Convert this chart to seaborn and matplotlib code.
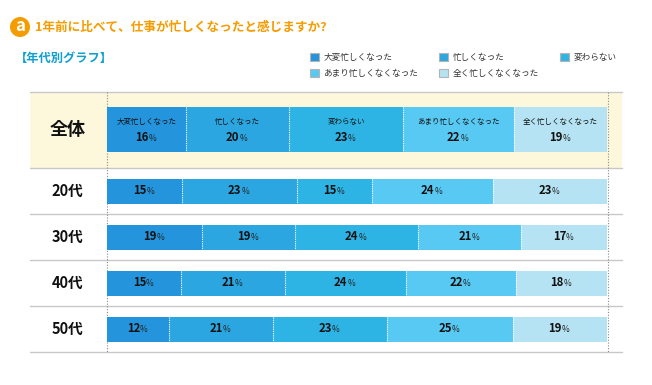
import numpy as np
import pandas as pd
import seaborn as sns
import matplotlib.pyplot as plt
from matplotlib.patches import Circle, Rectangle

# answers, darkest first
answers = ['大変忙しくなった', '忙しくなった', '変わらない', 'あまり忙しくなくなった', '全く忙しくなくなった']
colors = ['#2494dc', '#2ba6e0', '#2db4e4', '#58c9f3', '#b5e3f3']

total_group = ['全体']
age_groups = ['20代', '30代', '40代', '50代']

# shares
total_vals = [[15.8, 20.6, 22.8, 22.2, 18.6]]
age_vals = [
    [15.0, 23.0, 15.0, 24.2, 22.8],
    [19.0, 18.6, 24.6, 20.6, 17.2],
    [14.8, 20.8, 24.2, 22.0, 18.2],
    [12.4, 20.8, 22.8, 25.2, 18.8],
]

# printed labels
total_labels = [[16, 20, 23, 22, 19]]
age_labels = [
    [15, 23, 15, 24, 23],
    [19, 19, 24, 21, 17],
    [15, 21, 24, 22, 18],
    [12, 21, 23, 25, 19],
]

sns.set_theme(style='white')
plt.rcParams['font.family'] = ['Noto Sans CJK JP', 'DejaVu Sans']

W, H = 652, 385
fig = plt.figure(figsize=(W / 100, H / 100), dpi=100)

# background layer in pixels for the panel, lines and headings
bg = fig.add_axes([0, 0, 1, 1])
bg.set_xlim(0, W)
bg.set_ylim(H, 0)
bg.axis('off')
bg.add_patch(Rectangle((30, 92), 592, 76, color='#fdf8dc', lw=0))
for y in [92, 168, 214, 260, 306, 352]:
    bg.plot([30, 622], [y, y], color='#c8c8c8', lw=1)
for x in [106.5, 607.5]:
    bg.plot([x, x], [92, 352], color='#8a8a8a', lw=0.8, ls=(0, (1, 1.5)))

bg.add_patch(Circle((20, 27), 10, color='#f59c00', lw=0))
bg.text(20, 26, 'a', color='white', fontsize=12, fontweight='bold', ha='center', va='center')
bg.text(35, 27.5, '1年前に比べて、仕事が忙しくなったと感じますか?', color='#f59c00',
        fontsize=9.1, fontweight='bold', va='center')
bg.text(15, 58, '【年代別グラフ】', color='#0f9fd0', fontsize=8.8, fontweight='bold', va='center')


def stacked(ax, groups, vals, labels, bar_w, show_names):
    vals = np.array(vals)
    cum = vals.cumsum(axis=1)
    # back to front so each shorter bar covers the longer one
    for j in range(len(answers) - 1, -1, -1):
        df = pd.DataFrame({'group': groups, 'value': cum[:, j]})
        sns.barplot(data=df, y='group', x='value', color=colors[j], saturation=1,
                    width=bar_w, linewidth=0, ax=ax)
    ax.set_xlim(0, 100)
    ax.set_ylim(len(groups) - 0.5, -0.5)
    ax.patch.set_alpha(0)
    ax.set_xlabel('')
    ax.set_ylabel('')
    ax.set_xticks([])
    sns.despine(ax=ax, left=True, bottom=True)
    ax.tick_params(axis='y', length=0, pad=0)
    ax.set_yticks(range(len(groups)))
    ax.set_yticklabels([])
    for i in range(len(groups)):
        ax.vlines(cum[i, :-1], i - bar_w / 2, i + bar_w / 2, color='white', lw=0.8, ls=(0, (1, 1)))
        for j in range(len(answers)):
            mid = cum[i, j] - vals[i, j] / 2
            dy = -5.5 if show_names else 0
            if show_names:
                ax.annotate(answers[j], (mid, i), xytext=(0, 5.5), textcoords='offset points',
                            fontsize=5.4, color='#111111', ha='center', va='center')
            ax.annotate(str(labels[i][j]), (mid, i), xytext=(1.5, dy), textcoords='offset points',
                        fontsize=8.2, fontweight='bold', color='#111111', ha='right', va='center')
            ax.annotate('%', (mid, i), xytext=(1.2, dy - 0.3), textcoords='offset points',
                        fontsize=6, color='#222222', ha='left', va='center')


# top panel row, then the four age rows
ax_top = fig.add_axes([107 / W, 1 - 168 / H, 500 / W, 76 / H])
stacked(ax_top, total_group, total_vals, total_labels, 45 / 76, True)
ax_age = fig.add_axes([107 / W, 1 - 352 / H, 500 / W, 184 / H])
stacked(ax_age, age_groups, age_vals, age_labels, 25 / 46, False)

ax_top.annotate(total_group[0], (0, 0), xytext=(-28.5, 0), textcoords='offset points',
                fontsize=13, fontweight='bold', color='#111111', ha='center', va='center')
for i, g in enumerate(age_groups):
    ax_age.annotate(g, (0, i), xytext=(-28.5, 0), textcoords='offset points',
                    fontsize=10.5, fontweight='bold', color='#111111', ha='center', va='center')

handles = [Rectangle((0, 0), 1, 1, facecolor=c, edgecolor='#b4b4b4', lw=0.8) for c in colors]
# column-first order gives the 2/2/1 arrangement
order = [0, 3, 1, 4, 2]
bg.legend([handles[k] for k in order], [answers[k] for k in order], ncol=3,
          loc='upper left', bbox_to_anchor=(310 / W, 1 - 53 / H), frameon=False,
          fontsize=6.2, labelcolor='#333333', handlelength=1.0, handleheight=1.0,
          handletextpad=0.55, columnspacing=2.45, labelspacing=0.8, borderpad=0, borderaxespad=0)

fig.savefig('out.png', dpi=100)
